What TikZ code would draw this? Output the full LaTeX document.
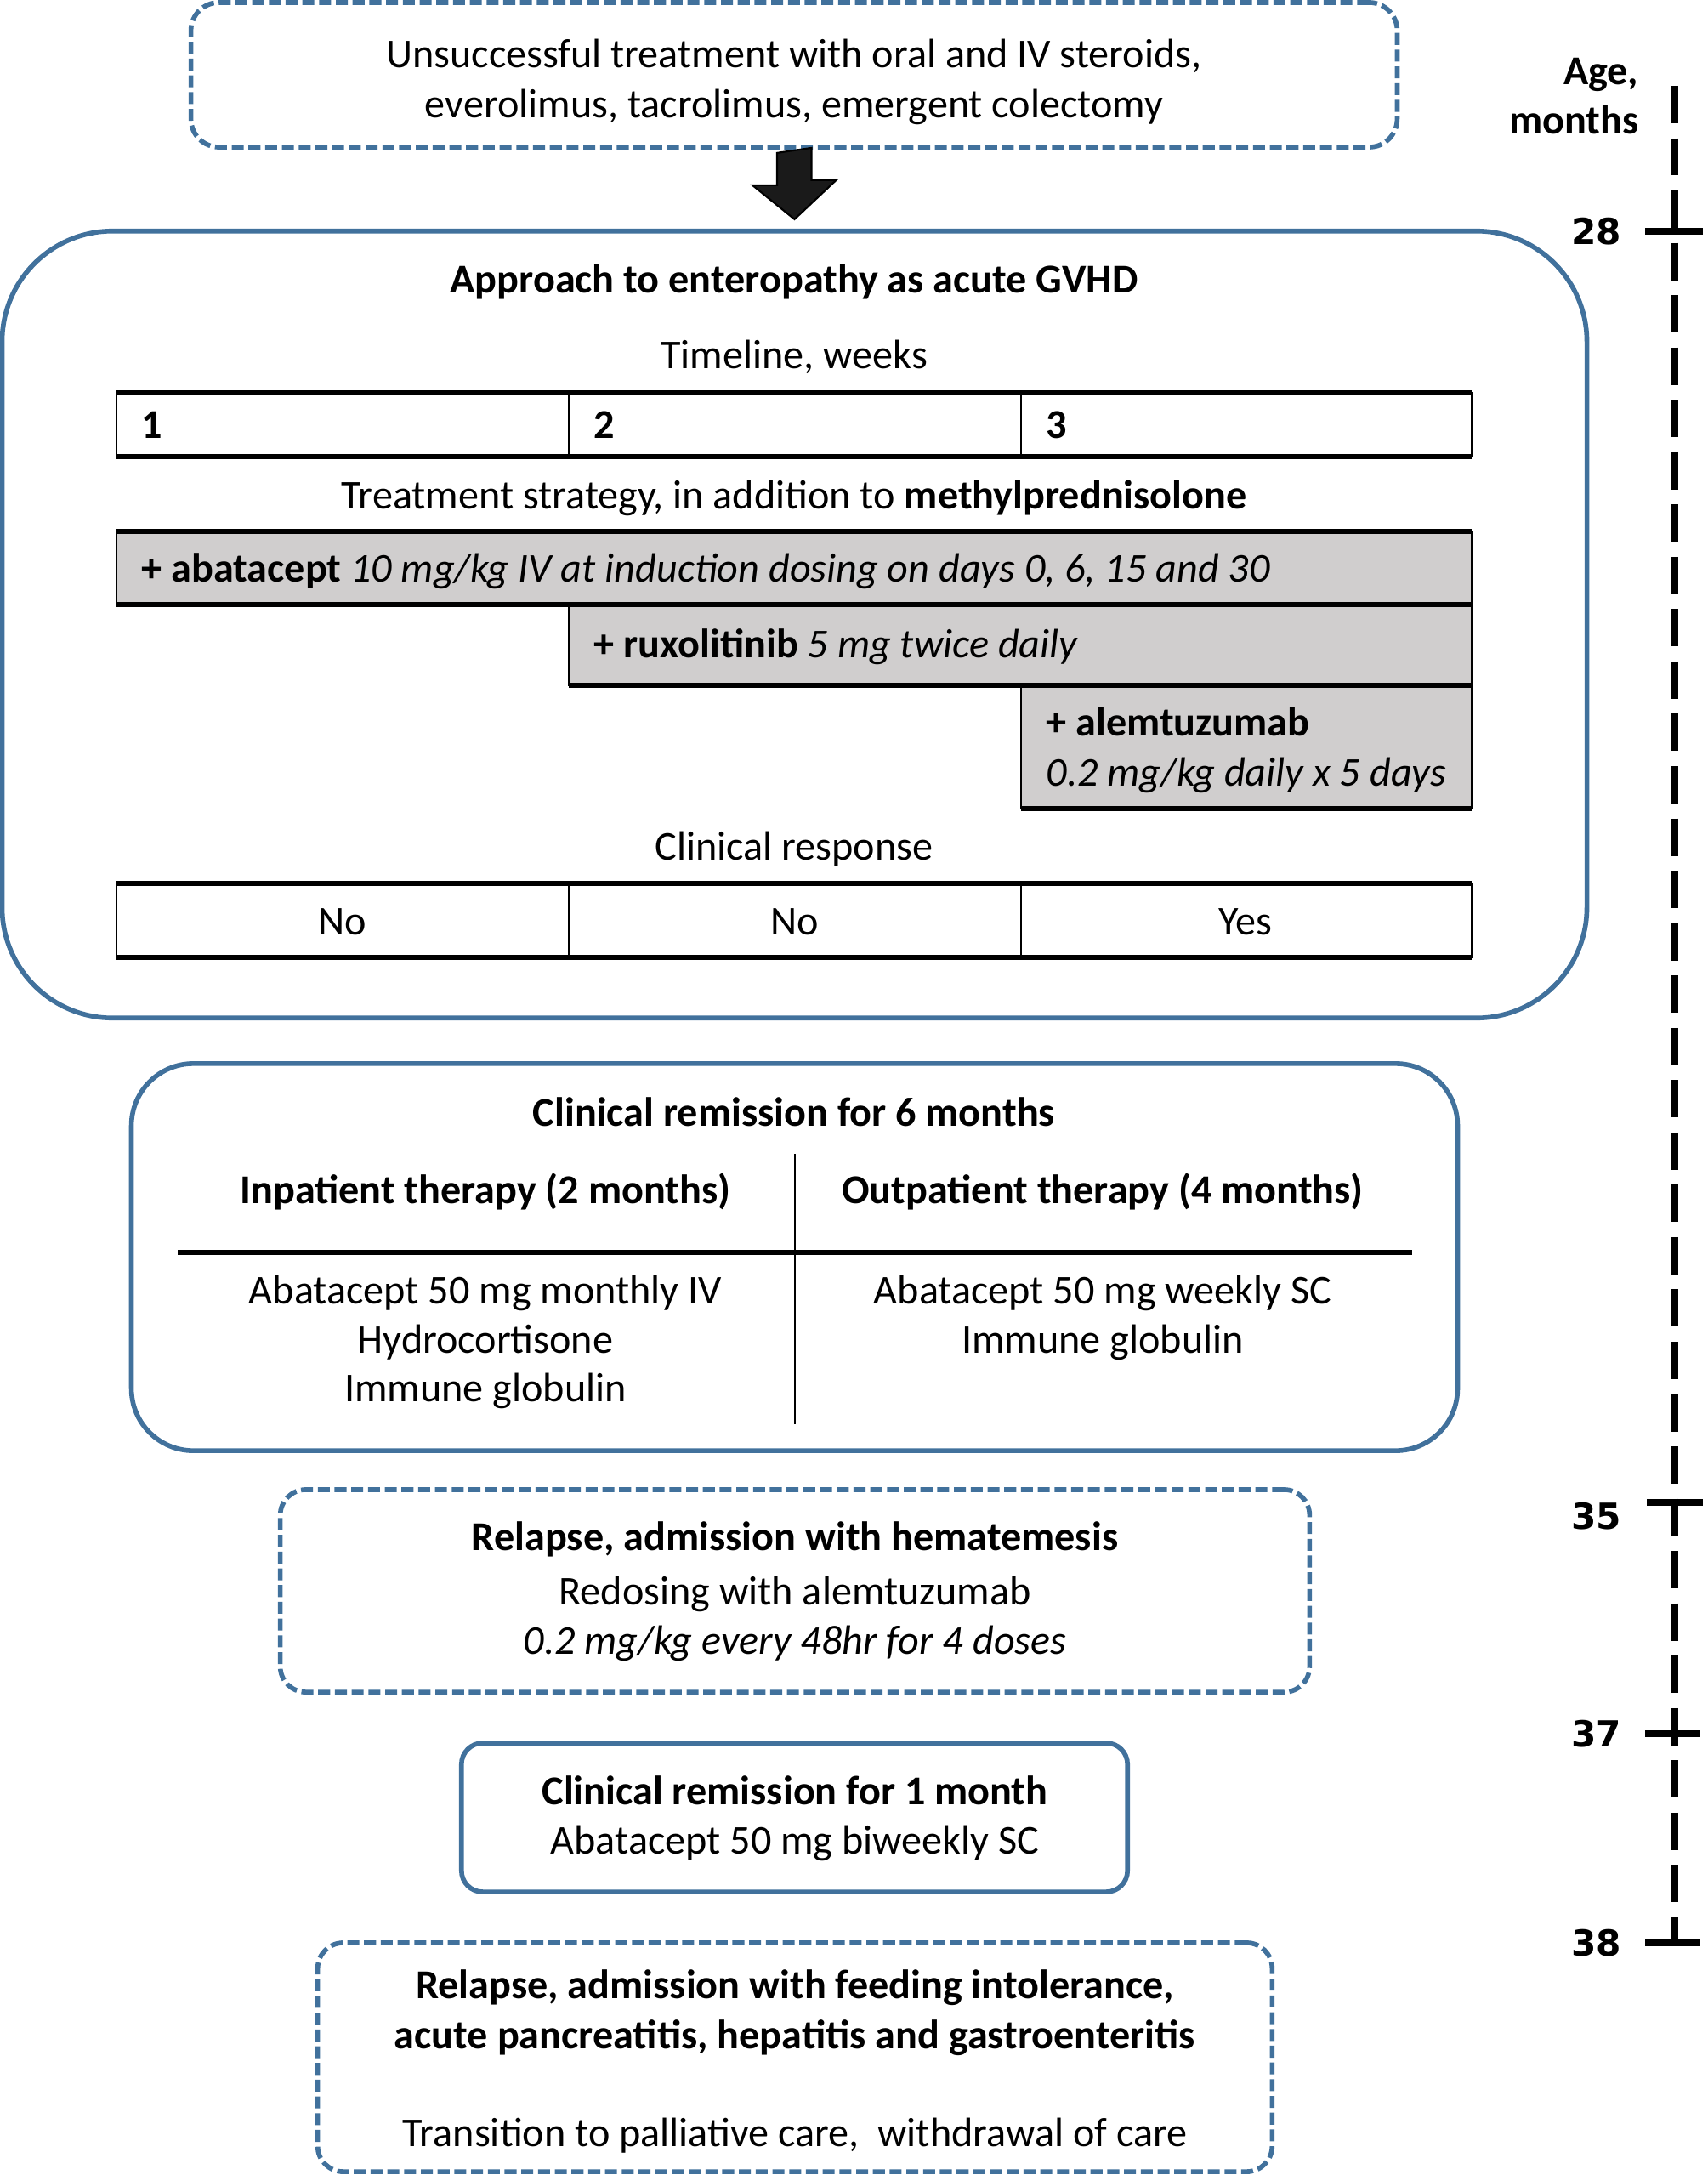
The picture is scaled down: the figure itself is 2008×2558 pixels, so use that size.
\documentclass[tikz,border=0pt]{standalone}
\usepackage{fontspec}
\setmainfont{Carlito}
\newfontfamily\agefont{DejaVu Sans}
\usetikzlibrary{calc}
\definecolor{boxblue}{HTML}{41719C}
\definecolor{bargrey}{HTML}{D0CECE}
\definecolor{arrowblack}{HTML}{1A1A1A}

\begin{document}
\begin{tikzpicture}[x=0.01cm, y=-0.01cm, font=\fontsize{13.7}{16}\selectfont,
  dashbox/.style={draw=boxblue, line width=1.6pt, dash pattern=on 4pt off 1.6pt, rounded corners=0.3cm, inner sep=0pt},
  solidbox/.style={draw=boxblue, line width=1.6pt, inner sep=0pt},
  txt/.style={inner sep=0pt, anchor=base},
  boldtxt/.style={txt, font=\bfseries\fontsize{13.7}{16}\selectfont},
  lefttxt/.style={inner sep=0pt, anchor=base west},
  cell/.style={draw, line width=0.8pt},
  bar/.style={draw, fill=bargrey, line width=0.8pt},
  rule/.style={line width=1.5pt},
  tick/.style={line width=2.2pt},
  agelabel/.style={inner sep=0pt, anchor=east, font=\agefont\bfseries\fontsize{12}{14}\selectfont}]
  \useasboundingbox (0,0) rectangle (2008,2558);

  % prior treatment
  \node[dashbox, minimum width=14.18cm, minimum height=1.70cm, rounded corners=0.33cm] (prior) at (934,88) {};
  \node[txt] (priorA) at (934,80) {Unsuccessful treatment with oral and IV steroids,};
  \node[txt] (priorB) at (934,139) {everolimus, tacrolimus, emergent colectomy};

  % acute GVHD approach
  \node[solidbox, minimum width=18.63cm, minimum height=9.25cm, rounded corners=1.3cm] (gvhd) at (934.5,734.5) {};
  \draw[fill=arrowblack, line width=0.6pt] (prior.south) ++(-20,4) -- ++(0,38) -- ++(-29,0)
    -- ($(gvhd.north)+(0,-11)$) -- ++(49,-46) -- ++(-29,0) -- ++(0,-38) -- cycle;
  \node[boldtxt] (gvhdtitle) at (934,345) {Approach to enteropathy as acute GVHD};
  \node[txt] (weeks) at (934,433) {Timeline, weeks};
  % weeks table
  \draw[cell] (137,462) rectangle (669,537);
  \draw[cell] (669,462) rectangle (1201,537);
  \draw[cell] (1201,462) rectangle (1731,537);
  \draw[rule] (137,462) -- (1731,462);
  \draw[rule] (137,537) -- (1731,537);
  \node[boldtxt, anchor=base west] (wk1) at (166,515) {1};
  \node[boldtxt, anchor=base west] (wk2) at (698,515) {2};
  \node[boldtxt, anchor=base west] (wk3) at (1230,515) {3};
  \node[txt] (strategy) at (934,598) {Treatment strategy, in addition to \textbf{methylprednisolone}};
  % drug bars
  \draw[bar] (137,625) rectangle (1731,711);
  \draw[bar] (669,711) rectangle (1731,806);
  \draw[bar] (1201,806) rectangle (1731,951);
  \draw[rule] (137,625) -- (1731,625);
  \draw[rule] (137,711) -- (1731,711);
  \draw[rule] (669,806) -- (1731,806);
  \draw[rule] (1201,951) -- (1731,951);
  \node[lefttxt] (abata) at (166,684) {\textbf{+ abatacept} \textit{10 mg/kg IV at induction dosing on days 0, 6, 15 and 30}};
  \node[lefttxt] (ruxo) at (698,773) {\textbf{+ ruxolitinib} \textit{5 mg twice daily}};
  \node[lefttxt] (alemA) at (1230,865) {\textbf{+ alemtuzumab}};
  \node[lefttxt] (alemB) at (1230,924) {\textit{0.2 mg/kg daily x 5 days}};
  % response table
  \node[txt] (response) at (934,1011) {Clinical response};
  \draw[cell] (137,1039) rectangle (669,1126);
  \draw[cell] (669,1039) rectangle (1201,1126);
  \draw[cell] (1201,1039) rectangle (1731,1126);
  \draw[rule] (137,1039) -- (1731,1039);
  \draw[rule] (137,1126) -- (1731,1126);
  \node[txt] (resp1) at (403,1099) {No};
  \node[txt] (resp2) at (935,1099) {No};
  \node[txt] (resp3) at (1465,1099) {Yes};

  % six month remission
  \node[solidbox, minimum width=15.59cm, minimum height=4.55cm, rounded corners=0.73cm] (remis) at (934.5,1478.5) {};
  \node[boldtxt] (remistitle) at (934,1324) {Clinical remission for 6 months};
  \draw[line width=0.8pt] (935,1357) -- (935,1675);
  \draw[rule] (209,1473) -- (1661,1473);
  \node[boldtxt] (inpat) at (571,1415) {Inpatient therapy (2 months)};
  \node[boldtxt] (outpat) at (1297,1415) {Outpatient therapy (4 months)};
  \node[txt] (inA) at (571,1533) {Abatacept 50 mg monthly IV};
  \node[txt] (inB) at (571,1591) {Hydrocortisone};
  \node[txt] (inC) at (571,1648) {Immune globulin};
  \node[txt] (outA) at (1297,1533) {Abatacept 50 mg weekly SC};
  \node[txt] (outB) at (1297,1591) {Immune globulin};

  % first relapse
  \node[dashbox, minimum width=12.10cm, minimum height=2.38cm] (relapse) at (935,1871) {};
  \node[boldtxt] (relapseA) at (935,1823) {Relapse, admission with hematemesis};
  \node[txt] (relapseB) at (935,1887) {Redosing with alemtuzumab};
  \node[txt] (relapseC) at (935,1945) {\textit{0.2 mg/kg every 48hr for 4 doses}};

  % one month remission
  \node[solidbox, minimum width=7.83cm, minimum height=1.75cm, rounded corners=0.25cm] (month) at (934.5,2137.5) {};
  \node[boldtxt] (monthA) at (935,2122) {Clinical remission for 1 month};
  \node[txt] (monthB) at (935,2180) {Abatacept 50 mg biweekly SC};

  % final relapse
  \node[dashbox, minimum width=11.22cm, minimum height=2.69cm] (final) at (935,2419.5) {};
  \node[boldtxt] (finalA) at (935,2350) {Relapse, admission with feeding intolerance,};
  \node[boldtxt] (finalB) at (935,2409) {acute pancreatitis, hepatitis and gastroenteritis};
  \node[txt] (finalC) at (935,2524) {Transition to palliative care,\ \ withdrawal of care};

  % age axis
  \node[boldtxt, anchor=base east] (ageA) at (1928,100) {Age,};
  \node[boldtxt, anchor=base east] (ageB) at (1928,158) {months};
  \coordinate (axtop) at (1970,101);
  \coordinate (axend) at (1970,2285);
  \draw[tick, dash pattern=on 12.5pt off 5pt] (axtop) -- (axend);
  \draw[tick] (1935,272) -- (2003,272);
  \draw[tick] (1937,1767) -- (2003,1767);
  \draw[tick] (1935,2039) -- (2000,2039);
  \draw[tick] (1935,2285) -- (2000,2285);
  \node[agelabel] (m28) at (1908,272) {28};
  \node[agelabel] (m35) at (1908,1783) {35};
  \node[agelabel] (m37) at (1908,2039) {37};
  \node[agelabel] (m38) at (1908,2285) {38};
\end{tikzpicture}
\end{document}
